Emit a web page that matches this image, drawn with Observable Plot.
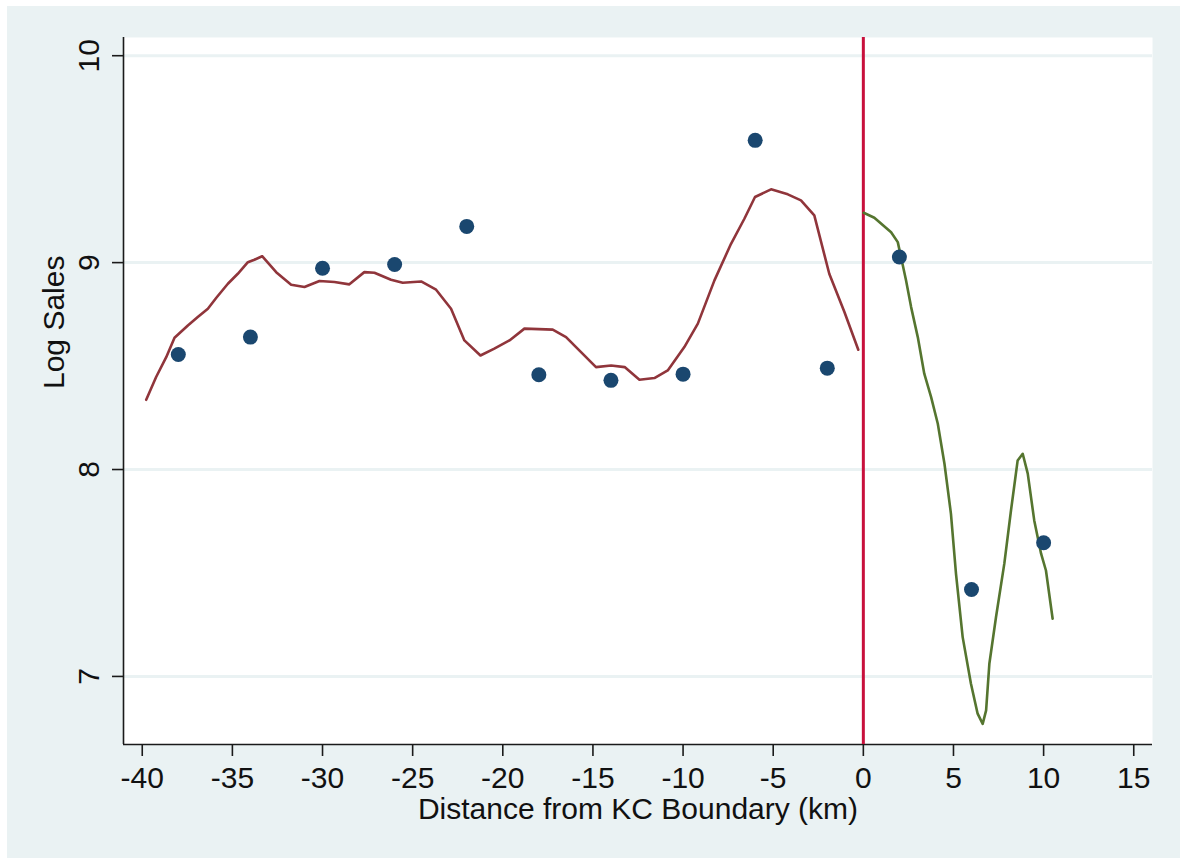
<!DOCTYPE html>
<html>
<head>
<meta charset="utf-8">
<script src="https://cdn.jsdelivr.net/npm/d3@7"></script>
<script src="https://cdn.jsdelivr.net/npm/@observablehq/plot@0.6"></script>
<style>
  html, body { margin: 0; padding: 0; background: #ffffff; width: 1180px; height: 858px; overflow: hidden; }
  #bg { position: absolute; left: 7px; top: 6px; width: 1173px; height: 852px; background: #eaf2f3; }
  #chart { position: absolute; left: 0; top: 0; }
</style>
</head>
<body>
<div id="bg"></div>
<div id="chart"></div>
<script>
// Binned means (scatter)
const dotX = [-38, -34, -30, -26, -22, -18, -14, -10, -6, -2, 2, 6, 10];
const dotY = [8.556, 8.640, 8.973, 8.991, 9.175, 8.458, 8.431, 8.461, 9.591, 8.490, 9.027, 7.420, 7.646];

// Smoothed fit, west of boundary (maroon)
const leftX = [-39.78, -39.23, -38.67, -38.21, -37.47, -36.92, -36.36, -35.89, -35.25, -34.70, -34.14, -33.78, -33.35,
  -32.57, -31.74, -31.00, -30.17, -29.34, -28.51, -27.68, -27.12, -26.20, -25.55, -24.53, -23.70, -22.87, -22.13,
  -21.24, -20.47, -19.63, -18.80, -17.23, -16.49, -15.66, -14.83, -13.99, -13.24, -12.42, -11.59, -10.85, -9.93,
  -9.18, -8.26, -7.34, -6.60, -6.01, -5.12, -4.19, -3.46, -2.72, -1.89, -1.05, -0.28];
const leftY = [8.337, 8.447, 8.543, 8.637, 8.696, 8.737, 8.777, 8.830, 8.898, 8.946, 9.002, 9.014, 9.031,
  8.954, 8.893, 8.882, 8.911, 8.906, 8.895, 8.954, 8.951, 8.917, 8.903, 8.909, 8.869, 8.777, 8.624,
  8.551, 8.584, 8.624, 8.681, 8.676, 8.640, 8.567, 8.495, 8.503, 8.495, 8.434, 8.442, 8.479, 8.592,
  8.705, 8.914, 9.091, 9.212, 9.317, 9.354, 9.330, 9.301, 9.228, 8.946, 8.761, 8.579];

// Smoothed fit, east of boundary (green)
const rightX = [0.02, 0.61, 1.54, 1.91, 2.09, 2.37, 2.65, 3.02, 3.38, 3.76, 4.13, 4.50, 4.86, 5.14, 5.51, 5.97,
  6.34, 6.62, 6.81, 6.99, 7.36, 7.82, 8.19, 8.56, 8.84, 9.12, 9.48, 9.86, 10.13, 10.50];
const rightY = [9.241, 9.217, 9.147, 9.099, 9.027, 8.914, 8.785, 8.640, 8.463, 8.350, 8.221, 8.028, 7.786, 7.496, 7.190, 6.965,
  6.820, 6.771, 6.836, 7.061, 7.287, 7.545, 7.802, 8.044, 8.076, 7.980, 7.754, 7.593, 7.512, 7.279];

const xTicks = [-40, -35, -30, -25, -20, -15, -10, -5, 0, 5, 10, 15];
const yTicks = [7, 8, 9, 10];
const xDomain = [-41.04, 16.04];
const yDomain = [6.671, 10.088];
const xTitle = "Distance from KC Boundary (km)";
const yTitle = "Log Sales";

const dots = dotX.map((x, i) => ({x, y: dotY[i]}));
const left = leftX.map((x, i) => ({x, y: leftY[i]}));
const right = rightX.map((x, i) => ({x, y: rightY[i]}));

const font = "'Liberation Sans', Arial, Helvetica, sans-serif";
const fmt = d => String(d).replace("\u2212", "-");

const chart = Plot.plot({
  width: 1180,
  height: 858,
  marginLeft: 123,
  marginRight: 28,
  marginTop: 37,
  marginBottom: 114,
  style: {background: "transparent", fontFamily: font, fontSize: "30px", color: "#111"},
  x: {domain: xDomain, ticks: xTicks},
  y: {domain: yDomain, ticks: yTicks},
  marks: [
    Plot.frame({fill: "white", stroke: null}),
    Plot.gridY(yTicks, {stroke: "#eaf2f3", strokeWidth: 3, strokeOpacity: 1}),
    Plot.ruleX([xDomain[0]], {stroke: "#1a1a1a", strokeWidth: 1.6}),
    Plot.ruleY([yDomain[0]], {stroke: "#1a1a1a", strokeWidth: 1.6}),
    Plot.axisX({ticks: xTicks, tickSize: 12, tickPadding: 10, label: null, stroke: "#1a1a1a", strokeWidth: 1.6, fill: "#111", fontSize: 30, tickFormat: fmt}),
    Plot.axisY({ticks: yTicks, tickSize: 11, tickPadding: 14, tickRotate: -90, label: null, stroke: "#1a1a1a", strokeWidth: 1.6, fill: "#111", fontSize: 30, tickFormat: fmt}),
    Plot.ruleX([0], {stroke: "#c8103c", strokeWidth: 3}),
    Plot.line(left, {x: "x", y: "y", stroke: "#90353b", strokeWidth: 2.6}),
    Plot.line(right, {x: "x", y: "y", stroke: "#55752f", strokeWidth: 2.6}),
    Plot.dot(dots, {x: "x", y: "y", r: 7.5, fill: "#1a476f", stroke: null}),
    Plot.text([xTitle], {frameAnchor: "bottom", dy: 65, text: d => d, fill: "#111", fontSize: 30, lineAnchor: "middle"}),
    Plot.text([yTitle], {frameAnchor: "left", dx: -69, dy: -2, text: d => d, rotate: -90, fill: "#111", fontSize: 30, lineAnchor: "middle"})
  ]
});
document.getElementById("chart").appendChild(chart);
</script>
</body>
</html>
